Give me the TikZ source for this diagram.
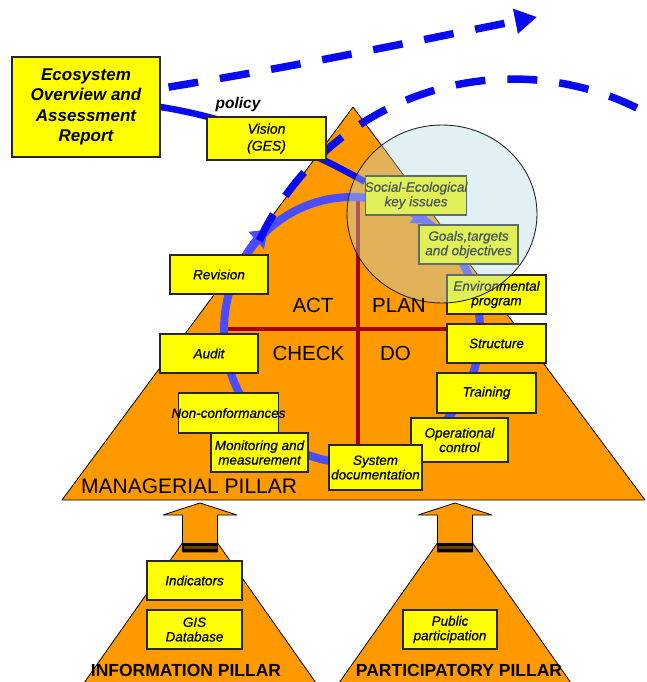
\documentclass[tikz,border=0pt]{standalone}
\usepackage{fontspec}
\setmainfont{Liberation Sans}
\newfontfamily\boxfont{Liberation Sans}[ItalicFeatures={FakeBold=0.6}]
\usetikzlibrary{arrows.meta}
\pgfdeclarelayer{boxes}
\pgfdeclarelayer{lens}
\pgfsetlayers{main,boxes,lens}
\definecolor{pillar}{RGB}{255,153,0}
\definecolor{boxyellow}{RGB}{255,255,0}
\definecolor{cycleblue}{RGB}{75,75,255}
\definecolor{flowblue}{RGB}{10,10,240}
\definecolor{crossred}{RGB}{165,0,0}
\definecolor{lens}{RGB}{180,217,222}
\definecolor{liftbar}{RGB}{110,60,0}
\tikzset{
  pillarshape/.style={fill=pillar, draw=black, line width=0.8pt, line join=round},
  ybox/.style={draw=black!85, line width=1.3pt, fill=boxyellow, align=center, inner sep=0pt,
    font=\boxfont\fontsize{13.5}{14.5}\selectfont\itshape},
  bsize/.style 2 args={minimum width=#1pt, minimum height=#2pt},
  quadrant/.style={font=\fontsize{20.5}{22}\selectfont, inner sep=0pt},
  pillarname/.style={font=\fontsize{17.5}{20}\selectfont\bfseries, inner sep=0pt, anchor=base},
  flowdash/.style={draw=flowblue, line width=7.5pt, dash pattern=on 30pt off 22pt},
  cyclering/.style={draw=cycleblue, line width=8pt},
  crossline/.style={draw=crossred, line width=3.5pt},
}
\begin{document}
\begin{tikzpicture}[x=1pt, y=1pt, yscale=-1]
\useasboundingbox (0,0) rectangle (646,682);
\clip (0,0) rectangle (646,682);

% ---- boxes (kept on their own layer above the drawing) ----
\begin{pgfonlayer}{boxes}
\node[ybox, bsize={148}{100}, font=\fontsize{17}{20.5}\selectfont\bfseries\itshape]
  (eco) at (86,107) {Ecosystem\\Overview and\\Assessment\\Report};
\node[ybox, bsize={119}{43}, font=\boxfont\fontsize{14}{17}\selectfont\itshape] (vision) at (266.5,138.5) {Vision\\(GES)};
\node[ybox, bsize={98}{39}, inner xsep=-1pt] (soc) at (416,195.5) {Social-Ecological\\key issues};
\node[ybox, bsize={99}{39}] (goals) at (468.5,244.5) {Goals,targets\\and objectives};
\node[ybox, bsize={99}{39}] (envprog) at (496.5,294.5) {Environmental\\program};
\node[ybox, bsize={99}{39}] (structure) at (496.5,343.5) {Structure};
\node[ybox, bsize={99}{40}] (training) at (486.5,393) {Training};
\node[ybox, bsize={97}{44}] (opctrl) at (459.5,440) {Operational\\control};
\node[ybox, bsize={93}{45}] (sysdoc) at (375.5,467.5) {System\\documentation};
\node[ybox, bsize={97}{39}] (monitor) at (259.5,452.5) {Monitoring and\\measurement};
\node[ybox, bsize={99}{40}, inner xsep=-7pt] (noncon) at (228.5,413) {Non-conformances};
\node[ybox, bsize={98}{39}] (audit) at (209,353.5) {Audit};
\node[ybox, bsize={98}{39}] (revision) at (219,274.5) {Revision};
\node[ybox, bsize={95}{39}] (indicators) at (194.5,580.5) {Indicators};
\node[ybox, bsize={95}{39}] (gis) at (194.5,629.5) {GIS\\Database};
\node[ybox, bsize={94}{39}] (public) at (450,629.5) {Public\\participation};
\end{pgfonlayer}

% upper dashed flow arrow
\draw[flowdash, dash phase=44pt, -{Triangle[length=22pt,width=24pt]}]
  (eco.14) .. controls (300,66) and (420,40) .. (537,17);

% supporting pillars
\draw[pillarshape] (200,518) -- (72,700) -- (328,700) -- cycle;
\draw[pillarshape] (455,518) -- (327,700) -- (583,700) -- cycle;

% lift arrows into the managerial pillar
\draw[pillarshape] (200,503) -- (237,515) -- (217.5,515) -- (217.5,552) -- (182.5,552)
  -- (182.5,515) -- (163,515) -- cycle;
\fill[black] (182.5,543) rectangle (217.5,552);
\fill[liftbar] (183.5,546) rectangle (216.5,549);
\draw[pillarshape] (455,503) -- (492,515) -- (472.5,515) -- (472.5,552) -- (437.5,552)
  -- (437.5,515) -- (418,515) -- cycle;
\fill[black] (437.5,543) rectangle (472.5,552);
\fill[liftbar] (438.5,546) rectangle (471.5,549);

% managerial pillar
\draw[pillarshape] (353,107) -- (62,500) -- (645,500) -- cycle;

% PDCA cross
\coordinate (crosstop) at (358,199);
\coordinate (crossbottom) at (358,452);
\coordinate (crossleft) at (226,329);
\coordinate (crossright) at (450,329);
\draw[crossline] (crosstop) -- (crossbottom);
\draw[crossline] (crossleft) -- (crossright);

% management cycle (clockwise)
\draw[cyclering] (352,330) ellipse[x radius=128, y radius=133];
\draw[cyclering, -{Triangle[length=16pt,width=22pt]}]
  (352,330) ++(205:128 and 133) arc[start angle=205, end angle=229, x radius=128, y radius=133];
\draw[cyclering, -{Triangle[length=16pt,width=22pt]}]
  (352,330) ++(285:128 and 133) arc[start angle=285, end angle=307, x radius=128, y radius=133];

% lower dashed flow
\coordinate (dashB) at (259.2,240.7);
\draw[flowdash] (dashB) arc[start angle=205, end angle=300, radius=280];

% policy link
\draw[flowblue, line width=6.5pt] (eco.east) .. controls (230,118) and (300,145) .. (soc.165);

% translucent focus lens and labels on top
\begin{pgfonlayer}{lens}
\draw[draw=black!85, line width=0.9pt, fill=lens, fill opacity=0.4] (442,214) ellipse[x radius=95, y radius=89];
\node[quadrant] (act) at (313,305) {ACT};
\node[quadrant] (plan) at (399,305) {PLAN};
\node[quadrant] (check) at (308.5,353) {CHECK};
\node[quadrant] (do) at (395.5,353) {DO};
\node[font=\fontsize{21}{24}\selectfont, anchor=base west, inner sep=0pt] (managerial) at (81,493) {MANAGERIAL PILLAR};
\node[pillarname] (information) at (186,676) {INFORMATION PILLAR};
\node[pillarname] (participatory) at (459,676) {PARTICIPATORY PILLAR};
\node[font=\fontsize{15.5}{18}\selectfont\bfseries\itshape, anchor=base, inner sep=0pt] (policy) at (238,109) {policy};
\end{pgfonlayer}
\end{tikzpicture}
\end{document}
